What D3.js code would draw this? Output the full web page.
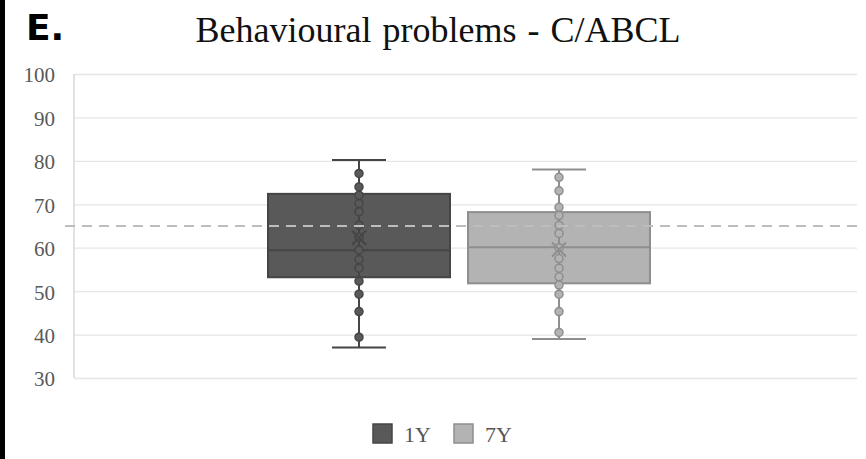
<!DOCTYPE html>
<html><head><meta charset="utf-8">
<script src="https://cdn.jsdelivr.net/npm/d3@7"></script>
<style>body{margin:0;background:#fff}svg{display:block}</style>
</head><body>
<svg id="c" width="866" height="459"></svg>
<script>
const title = "Behavioural problems - C/ABCL";
const panelLabel = "E.";
const seriesNames = ["1Y", "7Y"];
const yTicks = [30, 40, 50, 60, 70, 80, 90, 100];
const threshold = 65;
// box stats: [min, q1, median, q3, max]
const stats1Y = [37, 53.2, 59.4, 72.4, 80.2];
const stats7Y = [39, 51.8, 60.1, 68.2, 78];
const mean1Y = 62.3;
const mean7Y = 59.6;
const points1Y = [77.1, 74, 72.1, 70.2, 68.3, 65.2, 62.4, 59.5, 57.3, 55.3, 52.3, 49.3, 45.3, 39.4];
const points7Y = [76.2, 73.1, 69.3, 67.4, 65.2, 63.3, 60, 57.5, 55.3, 53.3, 51.4, 49.3, 45.3, 40.5];
const fills = ["#595959", "#b3b3b3"];
const strokes = ["#454545", "#8e8e8e"];

const svg = d3.select("#c");
const series = [
  {name: seriesNames[0], s: stats1Y, mean: mean1Y, pts: points1Y},
  {name: seriesNames[1], s: stats7Y, mean: mean7Y, pts: points7Y}
];

// left black border bar
svg.append("rect").attr("x", 0).attr("y", 0).attr("width", 5).attr("height", 459).attr("fill", "#000");

svg.append("text").attr("x", 26).attr("y", 40).text(panelLabel)
  .attr("font-family", "DejaVu Sans").attr("font-weight", "bold")
  .attr("font-size", 36).attr("fill", "#000");

svg.append("text").attr("x", 438).attr("y", 42).attr("text-anchor", "middle").text(title)
  .attr("font-family", "Liberation Serif, Times New Roman, serif").attr("font-size", 36)
  .attr("word-spacing", 2).attr("fill", "#111");

const y = d3.scaleLinear().domain([30, 100]).range([378, 74]);
const plotL = 74, plotR = 857;
const x = d3.scaleBand().domain(seriesNames).range([268, 650]).paddingInner(0.09).paddingOuter(0);

// grid
const yAxis = d3.axisLeft(y).tickValues(yTicks).tickSize(-(plotR - plotL)).tickPadding(19);
const ga = svg.append("g").attr("transform", `translate(${plotL},0)`).call(yAxis);
ga.select(".domain").remove();
ga.selectAll(".tick line").attr("stroke", "#e6e6e6").attr("stroke-width", 1.3);
ga.selectAll(".tick text").attr("font-family", "Liberation Serif, Times New Roman, serif")
  .attr("font-size", 21).attr("fill", "#595959").attr("dy", "0.38em");
// left axis line
svg.append("line").attr("x1", plotL).attr("x2", plotL).attr("y1", y(100)).attr("y2", y(30))
  .attr("stroke", "#d9d9d9").attr("stroke-width", 1.5);

series.forEach((d, i) => {
  const x0 = x(d.name), bw = x.bandwidth(), cx = x0 + bw / 2;
  const g = svg.append("g");
  const [mn, q1, md, q3, mx] = d.s;
  g.append("line").attr("x1", cx).attr("x2", cx).attr("y1", y(mx)).attr("y2", y(mn))
    .attr("stroke", strokes[i]).attr("stroke-width", 2);
  g.append("rect").attr("x", x0).attr("y", y(q3)).attr("width", bw).attr("height", y(q1) - y(q3))
    .attr("fill", fills[i]).attr("stroke", strokes[i]).attr("stroke-width", 2);
  [mn, mx].forEach(v => g.append("line").attr("x1", cx - 27).attr("x2", cx + 27).attr("y1", y(v)).attr("y2", y(v))
    .attr("stroke", strokes[i]).attr("stroke-width", 2));
  g.append("line").attr("x1", x0).attr("x2", x0 + bw).attr("y1", y(md)).attr("y2", y(md))
    .attr("stroke", strokes[i]).attr("stroke-width", 2);
  g.append("line").attr("x1", cx).attr("x2", cx).attr("y1", y(q3)).attr("y2", y(q1))
    .attr("stroke", strokes[i]).attr("stroke-width", 2);
  g.selectAll("circle").data(d.pts).join("circle")
    .attr("cx", cx).attr("cy", v => y(v)).attr("r", 4)
    .attr("fill", fills[i]).attr("stroke", strokes[i]).attr("stroke-width", 1.5);
  const my = y(d.mean), s = 7;
  g.append("path").attr("d", `M${cx - s},${my - s}L${cx + s},${my + s}M${cx - s},${my + s}L${cx + s},${my - s}`)
    .attr("stroke", strokes[i]).attr("stroke-width", 2).attr("fill", "none");
});

// threshold dashed line
svg.append("line").attr("x1", 65).attr("x2", plotR).attr("y1", y(threshold)).attr("y2", y(threshold))
  .attr("stroke", "#bdbdbd").attr("stroke-width", 2).attr("stroke-dasharray", "10,7");

// legend
const lg = svg.append("g");
const lx = [372, 453];
seriesNames.forEach((n, i) => {
  lg.append("rect").attr("x", lx[i] + 1).attr("y", 424).attr("width", 19).attr("height", 19)
    .attr("fill", fills[i]).attr("stroke", strokes[i]).attr("stroke-width", 1.5);
  lg.append("text").attr("x", lx[i] + 32).attr("y", 442).text(n)
    .attr("font-family", "Liberation Serif, Times New Roman, serif").attr("font-size", 22).attr("fill", "#555");
});
</script>
</body></html>
